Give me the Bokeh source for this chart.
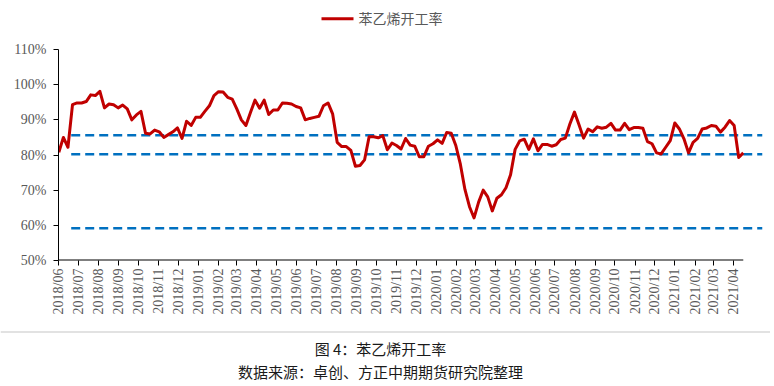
import math
import pandas as pd
from bokeh.plotting import figure
from bokeh.models import (Range1d, FixedTicker, PrintfTickFormatter,
                          DatetimeTickFormatter, ColumnDataSource)
from bokeh.layouts import column
from bokeh.core.properties import value
from bokeh.embed import file_html
from bokeh.resources import INLINE

# ---------------- data ----------------
series_name = "苯乙烯开工率"
start_date = "2018-06-01"          # first weekly observation
rate = [80.8, 85.0, 82.2, 94.3, 94.8, 94.8, 95.2, 97.1, 96.9, 98.1,
        93.4, 94.5, 94.3, 93.4, 94.2, 93.1, 90.0, 91.4, 92.4, 86.2,
        86.0, 87.1, 86.6, 85.0, 85.8, 86.6, 87.7, 84.7, 89.6, 88.4,
        90.7, 90.7, 92.4, 94.0, 96.9, 98.0, 97.9, 96.4, 95.9, 93.1,
        90.0, 88.4, 92.1, 95.6, 93.3, 95.6, 91.5, 92.8, 92.8, 94.8,
        94.7, 94.5, 93.8, 93.4, 90.0, 90.4, 90.7, 91.0, 94.0, 94.8,
        91.7, 83.6, 82.4, 82.4, 81.3, 76.8, 77.0, 78.6, 85.2, 85.2,
        84.9, 85.5, 81.5, 83.4, 82.7, 81.7, 84.7, 82.8, 82.5, 79.5,
        79.5, 82.5, 83.2, 84.3, 83.3, 86.4, 86.2, 82.7, 77.4, 70.2,
        65.3, 62.1, 66.6, 70.0, 68.1, 64.1, 67.7, 68.7, 70.7, 74.4,
        81.6, 84.0, 84.5, 81.6, 84.6, 81.2, 83.0, 83.0, 82.5, 82.9,
        84.4, 84.8, 88.8, 92.2, 88.6, 84.8, 87.4, 86.6, 88.0, 87.6,
        87.9, 89.0, 87.1, 87.1, 89.0, 87.2, 87.8, 87.8, 87.6, 83.8,
        83.2, 80.6, 80.3, 82.2, 84.1, 89.1, 87.4, 84.6, 80.6, 83.6,
        84.7, 87.4, 87.7, 88.4, 88.2, 86.5, 87.9, 89.8, 88.4, 79.3,
        80.6]
ref_levels = [85.6, 80.2, 59.2]
ref_start = "2018-06-20"
x_start = "2018-05-31 12:00"
x_end = "2021-05-15 12:00"
tick_first_month = "2018-06-01"
tick_last_month = "2021-04-01"
y_ticks = [50, 60, 70, 80, 90, 100, 110]
caption_title = "图 4：苯乙烯开工率"
caption_source = "数据来源：卓创、方正中期期货研究院整理"

dates = pd.date_range(start_date, periods=len(rate), freq="7D")
src = ColumnDataSource(dict(date=dates, rate=rate))
month_ticks = [t.value / 1e6 for t in pd.date_range(tick_first_month, tick_last_month, freq="MS")]

W = 770
RED = "#C00000"
BLUE = "#0070C0"
GRAY = "#595959"
CJK = value("Noto Sans CJK SC")


def bare(fig):
    fig.grid.visible = False
    fig.outline_line_color = None
    fig.background_fill_color = "white"
    fig.border_fill_color = "white"


# ---------------- legend strip ----------------
LH = 39
leg = figure(width=W, height=LH, x_range=Range1d(0, W), y_range=Range1d(0, LH),
             toolbar_location=None, output_backend="svg", min_border=0,
             x_axis_location=None, y_axis_location=None)
bare(leg)
leg.segment(x0=[321], y0=[20.7], x1=[353], y1=[20.7], line_color=RED, line_width=3)
leg.text(x=[358], y=[22], text=[series_name], text_align="left", text_baseline="middle",
         text_font=CJK, text_font_size="14px", text_color=GRAY)

# ---------------- main chart ----------------
p = figure(width=W, height=291, x_axis_type="datetime",
           x_range=Range1d(pd.Timestamp(x_start), pd.Timestamp(x_end)),
           y_range=Range1d(50, 110),
           toolbar_location=None, output_backend="svg",
           min_border_left=58, min_border_right=8, min_border_top=10, min_border_bottom=70)
bare(p)

for lv in ref_levels:
    p.segment(x0=[pd.Timestamp(ref_start)], y0=[lv], x1=[pd.Timestamp(x_end)], y1=[lv],
              line_color=BLUE, line_width=2.5, line_dash="9 5")

p.line("date", "rate", source=src, line_color=RED, line_width=3, line_join="round")

# x-axis baseline ending at the last observation
p.segment(x0=[pd.Timestamp(x_start)], y0=[50], x1=[dates[-1]], y1=[50],
          line_color="black", line_width=2)

p.yaxis.ticker = FixedTicker(ticks=y_ticks)
p.yaxis.formatter = PrintfTickFormatter(format="%d%%")
p.yaxis.axis_line_color = "black"
p.yaxis.major_tick_line_color = "black"
p.yaxis.major_tick_out = 5
p.yaxis.major_tick_in = 0
p.yaxis.minor_tick_line_color = None
p.yaxis.major_label_standoff = 7
p.yaxis.major_label_text_font = "Liberation Serif"
p.yaxis.major_label_text_font_size = "14px"
p.yaxis.major_label_text_color = GRAY

p.xaxis.ticker = FixedTicker(ticks=month_ticks)
p.xaxis.formatter = DatetimeTickFormatter(days="%Y/%m", months="%Y/%m", years="%Y/%m")
p.xaxis.major_label_orientation = math.pi / 2
p.xaxis.axis_line_color = None
p.xaxis.major_tick_line_color = "black"
p.xaxis.major_tick_out = 5
p.xaxis.major_tick_in = 0
p.xaxis.minor_tick_line_color = None
p.xaxis.major_label_standoff = 3
p.xaxis.major_label_text_font = "Liberation Serif"
p.xaxis.major_label_text_font_size = "14px"
p.xaxis.major_label_text_color = GRAY

# ---------------- caption ----------------
CH = 54
cap = figure(width=W, height=CH, x_range=Range1d(0, W), y_range=Range1d(0, CH),
             toolbar_location=None, output_backend="svg", min_border=0,
             x_axis_location=None, y_axis_location=None)
bare(cap)
cap.segment(x0=[0], y0=[52.5], x1=[W], y1=[52.5], line_color="#D9D9D9", line_width=1.5)
cap.text(x=[380], y=[36.3], text=[caption_title], text_align="center", text_baseline="middle",
         text_font=CJK, text_font_size="15px", text_color="#1a1a1a")
cap.text(x=[380], y=[13.3], text=[caption_source], text_align="center", text_baseline="middle",
         text_font=CJK, text_font_size="15px", text_color="#1a1a1a")

layout = column(column(leg), column(p), column(cap), spacing=0)
open("out.html", "w").write(file_html(layout, INLINE))
